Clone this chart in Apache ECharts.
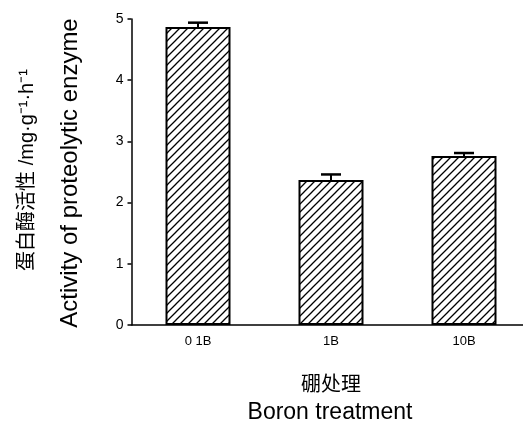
<!DOCTYPE html>
<html>
<head>
<meta charset="utf-8">
<script src="https://cdn.jsdelivr.net/npm/echarts@6/dist/echarts.min.js"></script>
<style>html,body{margin:0;padding:0;background:#fff;}#c{width:523px;height:437px;}</style>
</head>
<body>
<div id="c"></div>
<script>
var categories = ['0 1B', '1B', '10B'];
var values = [4.87, 2.37, 2.76];
var errors = [0.07, 0.09, 0.05];
var yTicks = [0, 1, 2, 3, 4, 5];

function hatch() {
  var s = 8;
  var cv = document.createElement('canvas');
  cv.width = s; cv.height = s;
  var ctx = cv.getContext('2d');
  ctx.fillStyle = '#fff';
  ctx.fillRect(0, 0, s, s);
  ctx.strokeStyle = '#000';
  ctx.lineWidth = 1.3;
  ctx.beginPath();
  ctx.moveTo(-1, s + 1); ctx.lineTo(s + 1, -1);
  ctx.moveTo(-1, 1); ctx.lineTo(1, -1);
  ctx.moveTo(s - 1, s + 1); ctx.lineTo(s + 1, s - 1);
  ctx.stroke();
  return cv;
}

var chart = echarts.init(document.getElementById('c'), null, {renderer: 'canvas'});
var errData = categories.map(function (c, i) { return [i, values[i], values[i] + errors[i]]; });

chart.setOption({
  animation: false,
  backgroundColor: '#fff',
  grid: {left: 131.5, top: 19, bottom: 112, width: 399, containLabel: false, outerBoundsMode: 'none'},
  xAxis: {
    type: 'category',
    data: categories,
    axisLine: {lineStyle: {color: '#000', width: 1.5}},
    axisTick: {show: false},
    axisLabel: {color: '#000', fontSize: 13, fontFamily: 'Liberation Sans, Arial', margin: 10}
  },
  yAxis: {
    type: 'value',
    min: yTicks[0], max: yTicks[yTicks.length - 1], interval: 1,
    splitLine: {show: false},
    axisLine: {show: true, lineStyle: {color: '#000', width: 1.5}},
    axisTick: {show: true, length: 4, lineStyle: {color: '#000', width: 1.5}},
    axisLabel: {color: '#000', fontSize: 14, fontFamily: 'Liberation Sans, Arial', margin: 8}
  },
  graphic: [
    {type: 'text', x: 70, y: 173, rotation: Math.PI / 2, style: {
      text: 'Activity of proteolytic enzyme', font: '24px "Liberation Sans", Arial',
      fill: '#000', align: 'center', verticalAlign: 'middle'}},
    {type: 'text', x: 27, y: 170, rotation: Math.PI / 2, style: {
      text: '蛋白酶活性 /mg·g⁻¹·h⁻¹', font: '20px "Liberation Sans", "Noto Sans CJK SC"',
      fill: '#000', align: 'center', verticalAlign: 'middle'}},
    {type: 'text', x: 331, y: 383, style: {
      text: '硼处理', font: '20px "Noto Sans CJK SC"',
      fill: '#000', align: 'center', verticalAlign: 'middle'}},
    {type: 'text', x: 330, y: 413, style: {
      text: 'Boron treatment', font: '23px "Liberation Sans", Arial',
      fill: '#000', align: 'center', verticalAlign: 'middle'}}
  ],
  series: [
    {
      type: 'bar',
      data: values,
      barWidth: 65,
      itemStyle: {color: {image: hatch(), repeat: 'repeat'}, borderColor: '#000', borderWidth: 2}
    },
    {
      type: 'custom',
      data: errData,
      z: 5,
      renderItem: function (params, api) {
        var x = api.value(0);
        var lo = api.coord([x, api.value(1)]);
        var hi = api.coord([x, api.value(2)]);
        var w = 10;
        return {
          type: 'group',
          children: [
            {type: 'line', shape: {x1: lo[0], y1: lo[1], x2: hi[0], y2: hi[1]}, style: {stroke: '#000', lineWidth: 2}},
            {type: 'line', shape: {x1: hi[0] - w, y1: hi[1], x2: hi[0] + w, y2: hi[1]}, style: {stroke: '#000', lineWidth: 2.5}}
          ]
        };
      }
    }
  ]
});
</script>
</body>
</html>
